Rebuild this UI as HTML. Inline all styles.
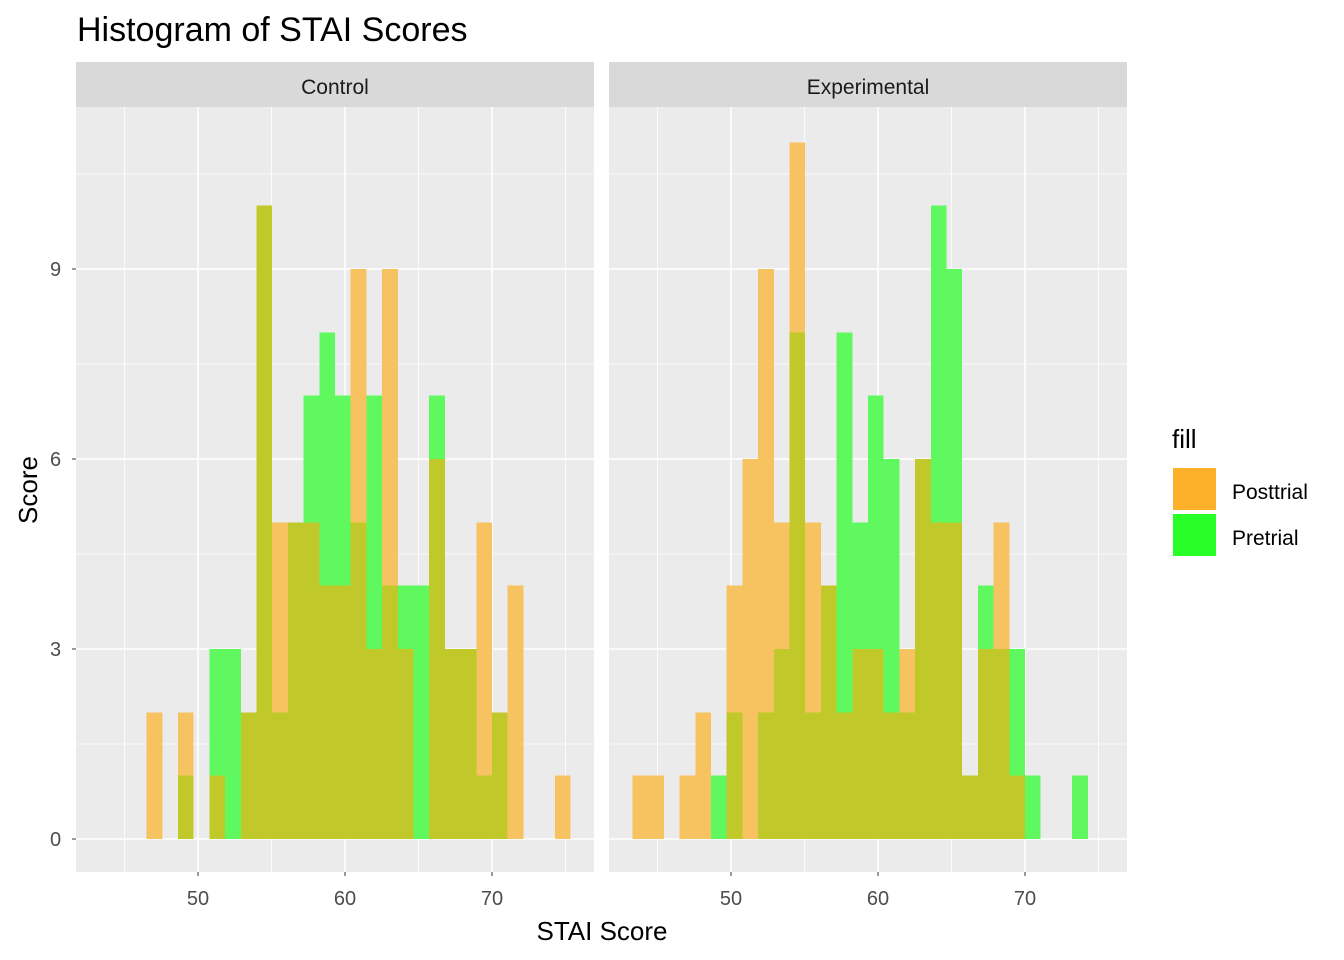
<!DOCTYPE html>
<html><head><meta charset="utf-8"><style>
body{margin:0;background:#fff;}
svg{display:block;font-family:"Liberation Sans",Arial,sans-serif;}
</style></head><body>
<svg id="chart" width="1344" height="960" viewBox="0 0 1344 960" xmlns="http://www.w3.org/2000/svg">
<text x="77" y="41" font-size="34" fill="#000">Histogram of STAI Scores</text>
<g id="panels"></g>
<text x="602" y="940" font-size="26" text-anchor="middle" fill="#000">STAI Score</text>
<text transform="translate(37,490) rotate(-90)" font-size="26" text-anchor="middle" fill="#000">Score</text>
<g>
<text x="1172" y="448" font-size="26" fill="#000">fill</text>
<rect x="1173" y="468" width="43" height="42" fill="#FDB02A"/>
<text x="1232" y="499" font-size="21" fill="#000">Posttrial</text>
<rect x="1173" y="514" width="43" height="42" fill="#27FF27"/>
<text x="1232" y="545" font-size="21" fill="#000">Pretrial</text>
</g>
</svg>
<script>
const binStart = 43.3;
const binWidth = 1.068;
const panelNames = ["Control", "Experimental"];
const controlPost = [0,0,0,2,0,2,0,1,0,2,10,5,5,5,4,4,9,3,9,3,0,6,3,3,5,2,4,0,0,1];
const controlPre  = [0,0,0,0,0,1,0,3,3,2,10,2,5,7,8,7,5,7,4,4,4,7,3,3,1,2,0,0,0,0];
const expPost = [1,1,0,1,2,0,4,6,9,5,11,5,4,2,3,3,2,3,6,5,5,1,3,5,1,0,0,0,0,0];
const expPre  = [0,0,0,0,0,1,2,0,2,3,8,2,4,8,5,7,6,2,6,10,9,1,4,3,3,1,0,0,1,0];
const xTicks = [50, 60, 70];
const xMinor = [45, 55, 65, 75];
const yTicks = [0, 3, 6, 9];
const yMinor = [1.5, 4.5, 7.5, 10.5];

const NS = "http://www.w3.org/2000/svg";
const panelX = [76, 609], panelW = 518;
const panelTop = 107, panelBottom = 872;
function xScale(v, p){ return panelX[p] + 122 + (v - 50) * 14.7; }
function yScale(v){ return 839 - v * 63.33; }
function mk(tag, attrs, parent){
  const e = document.createElementNS(NS, tag);
  for (const k in attrs) e.setAttribute(k, attrs[k]);
  parent.appendChild(e); return e;
}
const root = document.getElementById("panels");
const series = [[controlPost, controlPre], [expPost, expPre]];
for (let p = 0; p < 2; p++){
  const g = mk("g", {}, root);
  
  
  const strip = mk("rect", {x: panelX[p], y: 62, width: panelW, height: 45, fill: "#D9D9D9"}, g);
  
  
  const st = mk("text", {x: panelX[p] + panelW/2, y: 94, "font-size": 21, "text-anchor": "middle", fill: "#1A1A1A"}, g);
  st.textContent = panelNames[p];
  
  
  const bg = mk("rect", {x: panelX[p], y: panelTop, width: panelW, height: panelBottom - panelTop, fill: "#EBEBEB"}, g);
  
  
  xMinor.forEach(v => { const l = mk("line", {x1: xScale(v,p), x2: xScale(v,p), y1: panelTop, y2: panelBottom, stroke: "#fff", "stroke-width": 0.8}, g);   });
  yMinor.forEach(v => { const l = mk("line", {x1: panelX[p], x2: panelX[p]+panelW, y1: yScale(v), y2: yScale(v), stroke: "#fff", "stroke-width": 0.8}, g);   });
  xTicks.forEach(v => { const l = mk("line", {x1: xScale(v,p), x2: xScale(v,p), y1: panelTop, y2: panelBottom, stroke: "#fff", "stroke-width": 1.6}, g);   });
  yTicks.forEach(v => { const l = mk("line", {x1: panelX[p], x2: panelX[p]+panelW, y1: yScale(v), y2: yScale(v), stroke: "#fff", "stroke-width": 1.6}, g);   });
  const post = series[p][0], pre = series[p][1];
  for (let i = 0; i < post.length; i++){
    const x0 = xScale(binStart + i*binWidth, p), x1 = xScale(binStart + (i+1)*binWidth, p);
    const lo = Math.min(post[i], pre[i]), hi = Math.max(post[i], pre[i]);
    if (lo > 0){
      const r = mk("rect", {x: x0, y: yScale(lo), width: x1 - x0, height: yScale(0) - yScale(lo), fill: "#C1C92A", "shape-rendering": "crispEdges"}, g);
      
      
    }
    if (hi > lo){
      const col = post[i] > pre[i] ? "#F7C360" : "#5FF95F";
      const r = mk("rect", {x: x0, y: yScale(hi), width: x1 - x0, height: yScale(lo) - yScale(hi), fill: col, "shape-rendering": "crispEdges"}, g);
      
      
    }
  }
  xTicks.forEach(v => {
    const t = mk("line", {x1: xScale(v,p), x2: xScale(v,p), y1: panelBottom, y2: panelBottom+4, stroke: "#333", "stroke-width": 1}, g);
    
    
    const lb = mk("text", {x: xScale(v,p), y: 905, "font-size": 20, "text-anchor": "middle", fill: "#4D4D4D"}, g);
    lb.textContent = v;
    
    
  });
}
yTicks.forEach(v => {
  const t = mk("line", {x1: 72, x2: 76, y1: yScale(v), y2: yScale(v), stroke: "#333", "stroke-width": 1}, root);
  
  
  const lb = mk("text", {x: 50, y: yScale(v) + 7, "font-size": 20, "text-anchor": "start", fill: "#4D4D4D"}, root);
  lb.textContent = v;
  
  
});
</script>
</body></html>
